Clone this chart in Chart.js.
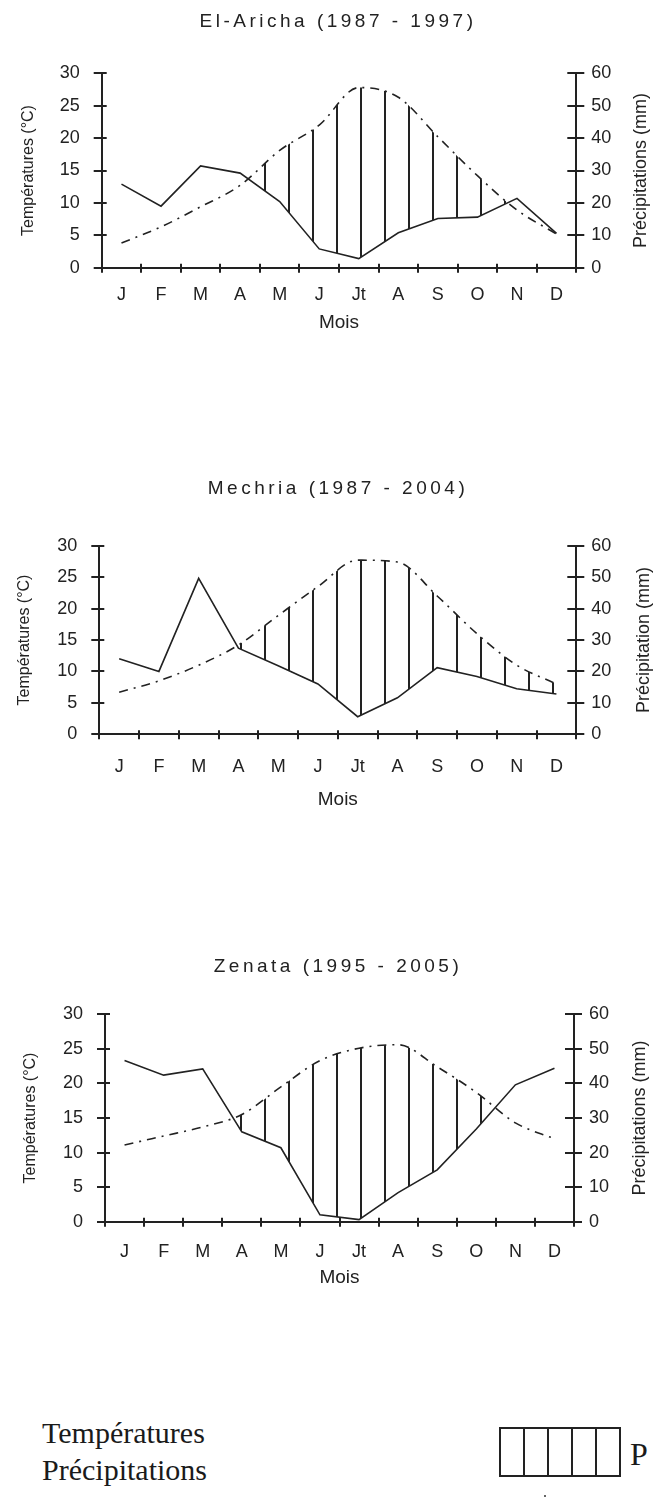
<!DOCTYPE html>
<html>
<head>
<meta charset="utf-8">
<script src="https://cdn.jsdelivr.net/npm/chart.js@4.4.1/dist/chart.umd.min.js"></script>
<style>
  html, body { margin: 0; padding: 0; background: #fff; }
  body { position: relative; width: 658px; height: 1505px; overflow: hidden; }
  canvas { position: absolute; left: 0; }
  .leg { position: absolute; font-family: 'Liberation Serif', 'Times New Roman', serif; font-size: 30px; line-height: 30px; color: #1a1a1a; white-space: nowrap; }
  #box { position: absolute; left: 499px; top: 1427px; width: 122px; height: 50px; box-sizing: border-box; border: 2px solid #222; display: flex; }
  #box div { flex: 1; border-right: 2px solid #222; }
  #box div:last-child { border-right: none; }
</style>
</head>
<body>
<canvas id="c1"></canvas>
<canvas id="c2"></canvas>
<canvas id="c3"></canvas>

<div class="leg" style="left:42px; top:1418px;">Températures</div>
<div class="leg" style="left:42px; top:1455px;">Précipitations</div>
<div id="box"><div></div><div></div><div></div><div></div><div></div></div>
<div class="leg" style="left:630px; top:1438px; font-size:32px; line-height:32px;">P</div>
<div style="position:absolute; left:544px; top:1495px; width:2px; height:2px; background:#666;"></div>

<script>
// mois
const months = ['J', 'F', 'M', 'A', 'M', 'J', 'Jt', 'A', 'S', 'O', 'N', 'D'];

// El-Aricha : températures (°C) et précipitations (mm)
const tempAricha = [3.8, 6.3, 9.4, 12.7, 18.1, 22.0, 27.8, 26.3, 20.2, 14.2, 8.9, 5.2];
const precAricha = [25.8, 19.0, 31.4, 29.2, 20.4, 5.8, 2.8, 10.8, 15.2, 15.6, 21.4, 10.6];

// Mechria
const tempMechria = [6.7, 8.5, 11.0, 14.2, 18.9, 23.5, 27.7, 27.4, 22.0, 16.0, 11.0, 8.0];
const precMechria = [24.0, 20.0, 49.6, 27.4, 21.8, 16.0, 5.6, 11.6, 21.2, 18.4, 14.5, 12.8];

// Zenata
const tempZenata = [11.1, 12.4, 13.7, 15.5, 19.5, 23.3, 25.1, 25.6, 22.4, 18.7, 14.3, 12.0];
const precZenata = [46.6, 42.4, 44.2, 26.0, 21.4, 2.0, 0.6, 8.4, 15.0, 26.8, 39.6, 44.4];

// graduations des axes
const tempTicks = {min: 0, max: 30, step: 5};
const precTicks = {min: 0, max: 60, step: 10};

const INK = '#222';
const FONT = "'Liberation Sans', Arial, sans-serif";

// position de chaque diagramme sur la page (px)
const layouts = [
  {titleY: 21.7, top: 73.3, bottom: 267.7, left: 101.7, right: 576.3, labelY: 295, moisY: 323, leftTitleX: 28.3, rightTitleX: 641.3},
  {titleY: 488.3, top: 545.7, bottom: 734.3, left: 99.3, right: 576.3, labelY: 766.7, moisY: 800, leftTitleX: 25, rightTitleX: 644.5},
  {titleY: 966.7, top: 1014.3, bottom: 1221.7, left: 105, right: 574, labelY: 1251.7, moisY: 1278, leftTitleX: 31, rightTitleX: 640.5}
];

// graduations croisées + titre + titre de l'axe droit
const decor = {
  id: 'decor',
  afterDraw(chart, args, o) {
    const {ctx, scales: {x, y, y1}} = chart;
    ctx.save();
    ctx.strokeStyle = INK;
    ctx.lineWidth = 2;
    ctx.beginPath();
    for (let i = 0; i <= months.length; i++) {
      const px = Math.round(x.getPixelForValue(i - 0.5));
      ctx.moveTo(px, y.bottom - 4);
      ctx.lineTo(px, y.bottom + 5);
    }
    y.ticks.forEach(t => {
      const py = Math.round(y.getPixelForValue(t.value));
      ctx.moveTo(y.right - 8, py);
      ctx.lineTo(y.right + 5, py);
    });
    y1.ticks.forEach(t => {
      const py = Math.round(y1.getPixelForValue(t.value));
      ctx.moveTo(y1.left - 9, py);
      ctx.lineTo(y1.left + 8, py);
    });
    ctx.stroke();

    ctx.fillStyle = INK;
    ctx.textAlign = 'center';
    ctx.textBaseline = 'middle';
    ctx.font = '19px ' + FONT;
    ctx.letterSpacing = '3.5px';
    ctx.fillText(o.title, o.titleX, o.titleY);
    ctx.letterSpacing = '0px';

    ctx.font = '18px ' + FONT;
    ctx.translate(o.rightTitleX, (chart.chartArea.top + chart.chartArea.bottom) / 2);
    ctx.rotate(-Math.PI / 2);
    ctx.fillText(o.rightTitle, 0, 0);
    ctx.restore();
  }
};

function makeChart(id, title, rightTitle, temp, prec, L) {
  const T = Math.floor(L.titleY - 20);
  const B = Math.ceil(L.moisY + 14);
  const canvas = document.getElementById(id);
  canvas.width = 658;
  canvas.height = B - T;
  canvas.style.top = T + 'px';

  // hachures verticales pour la période sèche
  const tile = document.createElement('canvas');
  tile.width = 24; tile.height = 8;
  const g = tile.getContext('2d');
  g.fillStyle = INK;
  g.fillRect(0, 0, 2, 8);
  const hatch = canvas.getContext('2d').createPattern(tile, 'repeat');

  return new Chart(canvas, {
    type: 'line',
    data: {
      labels: months,
      datasets: [
        {
          label: 'Températures',
          data: temp,
          yAxisID: 'y',
          borderColor: INK,
          borderWidth: 1.6,
          borderDash: [9, 6, 2, 6],
          pointRadius: 0,
          cubicInterpolationMode: 'monotone',
          fill: {target: 1, above: hatch, below: 'rgba(0,0,0,0)'}
        },
        {
          label: 'Précipitations',
          data: prec,
          yAxisID: 'y1',
          borderColor: INK,
          borderWidth: 1.6,
          pointRadius: 0,
          tension: 0,
          fill: false
        }
      ]
    },
    options: {
      responsive: false,
      animation: false,
      devicePixelRatio: 1,
      layout: {padding: {top: L.top - T, left: 0, right: 0, bottom: 0}},
      plugins: {
        legend: {display: false},
        tooltip: {enabled: false},
        decor: {title: title, titleX: 338, titleY: L.titleY - T, rightTitle: rightTitle, rightTitleX: L.rightTitleX}
      },
      scales: {
        x: {
          offset: true,
          grid: {display: false, drawTicks: false},
          border: {display: true, color: INK, width: 2},
          ticks: {color: INK, font: {family: FONT, size: 18}, padding: L.labelY - L.bottom - 10.8, maxRotation: 0, autoSkip: false},
          title: {display: true, text: 'Mois', color: INK, font: {family: FONT, size: 19}, padding: {top: 0, bottom: B - L.moisY - 11.4}},
          afterFit: s => { s.height = B - L.bottom; }
        },
        y: {
          position: 'left',
          min: tempTicks.min,
          max: tempTicks.max,
          grid: {display: false, drawTicks: false},
          border: {display: true, color: INK, width: 2},
          ticks: {stepSize: tempTicks.step, color: INK, font: {family: FONT, size: 18}, padding: 22},
          title: {display: true, text: 'Températures (°C)', color: INK, font: {family: FONT, size: 16}, padding: {top: L.leftTitleX - 9.6, bottom: 0}},
          afterFit: s => { s.width = L.left; }
        },
        y1: {
          position: 'right',
          min: precTicks.min,
          max: precTicks.max,
          grid: {display: false, drawTicks: false},
          border: {display: true, color: INK, width: 2},
          ticks: {stepSize: precTicks.step, color: INK, font: {family: FONT, size: 18}, padding: 15},
          afterFit: s => { s.width = 658 - L.right; }
        }
      }
    },
    plugins: [decor]
  });
}

makeChart('c1', 'El-Aricha (1987 - 1997)', 'Précipitations (mm)', tempAricha, precAricha, layouts[0]);
makeChart('c2', 'Mechria (1987 - 2004)', 'Précipitation (mm)', tempMechria, precMechria, layouts[1]);
makeChart('c3', 'Zenata (1995 - 2005)', 'Précipitations (mm)', tempZenata, precZenata, layouts[2]);
</script>
</body>
</html>
